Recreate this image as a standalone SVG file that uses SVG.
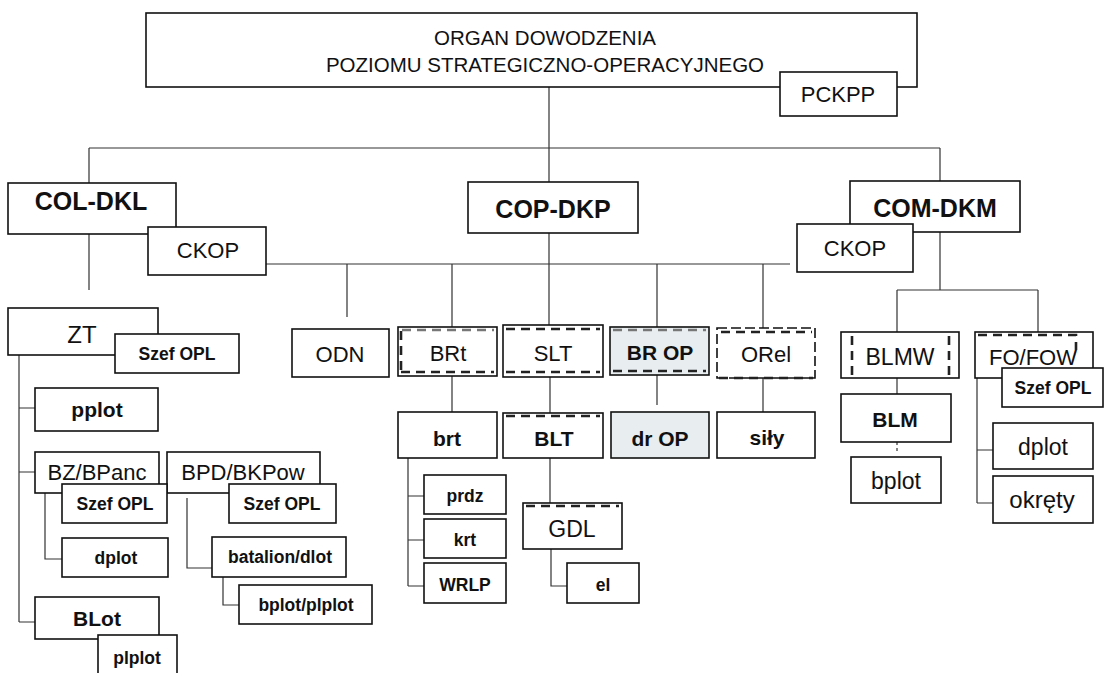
<svg xmlns="http://www.w3.org/2000/svg" width="1105" height="673" viewBox="0 0 1105 673">
<style>
.b{fill:#fff;stroke:#111;stroke-width:1.6}
.g{fill:#e8eef0;stroke:#111;stroke-width:1.6}
.d{fill:none;stroke:#222;stroke-width:2.6;stroke-dasharray:9 6}
.dl{fill:none;stroke:#777;stroke-width:2.6;stroke-dasharray:9 6}
.c{fill:none;stroke:#333;stroke-width:1.2}
text{font-family:"Liberation Sans",Arial,sans-serif;fill:#111;text-anchor:middle}
.r{font-size:22px}
.rb{font-size:21px;font-weight:bold}
.s{font-size:17.5px;font-weight:bold}
.h{font-size:25px;font-weight:bold}
</style>
<rect width="1105" height="673" fill="#fff"/>
<g id="connectors">
<path class="c" d="M549 87V148M89 148H940M89 148V183M940 148V181M549 148V182"/>
<path class="c" d="M89 234V290M266 264H790M549 233V325M347 264V317M452 264V327M657 264V327M763 264V328"/>
<path class="c" d="M940 232V290M897 290H1038M897 290V332M1038 290V332"/>
<path class="c" d="M19 355V622M19 408H35M19 472H35M19 622H35"/>
<path class="c" d="M45 493V559H62M187 498V568H212M223 577V605H239"/>
<path class="c" d="M452 376V412M550 377V413M657 375V405M763 378V412"/>
<path class="c" d="M408 458V586M408 496H424M408 540H424M408 586H424"/>
<path class="c" d="M550 458V503M551 549V586H567"/>
<path class="c" d="M897 378V394"/>
<path class="c" d="M897 442V452" stroke-dasharray="3 3"/>
<path class="c" d="M977 378V503M977 450H993M977 503H993"/>
</g>
<g id="top">
<rect class="b" x="146" y="13" width="771" height="74"/>
<text x="545" y="45" style="font-size:20.5px">ORGAN DOWODZENIA</text>
<text x="545" y="72" style="font-size:20.5px">POZIOMU STRATEGICZNO-OPERACYJNEGO</text>
</g>
<g id="pckpp"><rect class="b" x="780" y="72" width="117" height="44"/><text class="r" x="838" y="102">PCKPP</text></g>
<g id="col"><rect class="b" x="8" y="183" width="168" height="51"/><text class="h" x="91" y="210">COL-DKL</text></g>
<g id="ckop-l"><rect class="b" x="148" y="227" width="118" height="48"/><text class="r" x="208" y="258">CKOP</text></g>
<g id="cop"><rect class="b" x="468" y="182" width="170" height="51"/><text class="h" x="553" y="218">COP-DKP</text></g>
<g id="com"><rect class="b" x="850" y="181" width="170" height="51"/><text class="h" x="935" y="217">COM-DKM</text></g>
<g id="ckop-r"><rect class="b" x="797" y="224" width="116" height="48"/><text class="r" x="855" y="256">CKOP</text></g>
<g id="zt"><rect class="b" x="8" y="308" width="150" height="47"/><text x="82" y="343" style="font-size:24px">ZT</text></g>
<g id="szef-zt"><rect class="b" x="115" y="334" width="124" height="39"/><text class="s" x="177" y="360">Szef OPL</text></g>
<g id="pplot"><rect class="b" x="35" y="388" width="123" height="43"/><text x="97" y="417" style="font-size:21px;font-weight:bold">pplot</text></g>
<g id="bz"><rect class="b" x="35" y="452" width="124" height="41"/><text class="r" x="97" y="480">BZ/BPanc</text></g>
<g id="bpd"><rect class="b" x="167" y="452" width="153" height="41"/><text class="r" x="243" y="480">BPD/BKPow</text></g>
<g id="szef-bz"><rect class="b" x="62" y="484" width="105" height="39"/><text class="s" x="115" y="510">Szef OPL</text></g>
<g id="szef-bpd"><rect class="b" x="229" y="484" width="107" height="39"/><text class="s" x="282" y="510">Szef OPL</text></g>
<g id="dplot-l"><rect class="b" x="62" y="538" width="106" height="39"/><text class="s" x="116" y="564">dplot</text></g>
<g id="batalion"><rect class="b" x="212" y="537" width="134" height="40"/><text class="s" x="280" y="563">batalion/dlot</text></g>
<g id="bplot-plplot"><rect class="b" x="239" y="585" width="133" height="39"/><text class="s" x="306" y="611">bplot/plplot</text></g>
<g id="blot"><rect class="b" x="35" y="597" width="124" height="42"/><text x="97" y="626" style="font-size:21px;font-weight:bold">BLot</text></g>
<g id="plplot"><rect class="b" x="98" y="635" width="79" height="45"/><text class="s" x="137" y="664">plplot</text></g>
<g id="odn"><rect class="b" x="292" y="329" width="97" height="48"/><text class="r" x="340" y="362">ODN</text></g>
<g id="brt-top"><rect class="b" x="398" y="327" width="99" height="49"/><path class="dl" d="M402 330H494"/><path class="d" d="M401 372H494M401 331V372"/><text class="r" x="448" y="361">BRt</text></g>
<g id="slt"><rect class="b" x="503" y="325" width="100" height="52"/><path class="d" d="M506 329H600M506 372H600"/><text class="r" x="553" y="361">SLT</text></g>
<g id="brop"><rect class="g" x="610" y="327" width="99" height="48"/><path class="dl" d="M613 330H706"/><path class="d" d="M613 371H706"/><text class="rb" x="660" y="360">BR OP</text></g>
<g id="orel"><rect class="b" x="717" y="328" width="98" height="50" stroke-dasharray="10 4"/><path class="d" d="M721 332H812M719 378H813"/><text class="r" x="766" y="362">ORel</text></g>
<g id="brt"><rect class="b" x="398" y="412" width="99" height="46"/><text class="rb" x="447" y="446">brt</text></g>
<g id="blt"><rect class="b" x="503" y="413" width="100" height="45"/><path class="d" d="M506 416H600"/><text class="rb" x="554" y="446">BLT</text></g>
<g id="drop"><rect class="g" x="611" y="412" width="98" height="46"/><text class="rb" x="660" y="446">dr OP</text></g>
<g id="sily"><rect class="b" x="717" y="412" width="98" height="46"/><text class="rb" x="767" y="445">siły</text></g>
<g id="prdz"><rect class="b" x="424" y="475" width="82" height="39"/><text class="s" x="465" y="502">prdz</text></g>
<g id="krt"><rect class="b" x="424" y="519" width="82" height="39"/><text class="s" x="465" y="546">krt</text></g>
<g id="wrlp"><rect class="b" x="424" y="563" width="82" height="40"/><text class="s" x="465" y="591">WRLP</text></g>
<g id="gdl"><rect class="b" x="523" y="503" width="99" height="46"/><path class="d" d="M526 506H619"/><text x="572" y="537" style="font-size:23px">GDL</text></g>
<g id="el"><rect class="b" x="567" y="563" width="72" height="40"/><text class="s" x="603" y="591">el</text></g>
<g id="blmw"><rect class="b" x="841" y="332" width="118" height="46"/><path class="d" d="M852 336V375M949 336V375"/><text class="r" x="900" y="365" style="font-size:23px">BLMW</text></g>
<g id="blm"><rect class="b" x="841" y="394" width="110" height="48"/><text class="rb" x="895" y="427">BLM</text></g>
<g id="bplot"><rect class="b" x="851" y="457" width="90" height="46"/><text class="r" x="896" y="489" style="font-size:23px">bplot</text></g>
<g id="fo"><rect class="b" x="975" y="332" width="118" height="46"/><path class="d" d="M978 335H1076V350"/><text class="r" x="1033" y="365">FO/FOW</text></g>
<g id="szef-fo"><rect class="b" x="1002" y="368" width="101" height="39"/><text class="s" x="1053" y="394">Szef OPL</text></g>
<g id="dplot-r"><rect class="b" x="993" y="423" width="100" height="46"/><text class="r" x="1043" y="455" style="font-size:23px">dplot</text></g>
<g id="okrety"><rect class="b" x="993" y="476" width="100" height="47"/><text class="r" x="1042" y="508" style="font-size:24px">okręty</text></g>
</svg>
